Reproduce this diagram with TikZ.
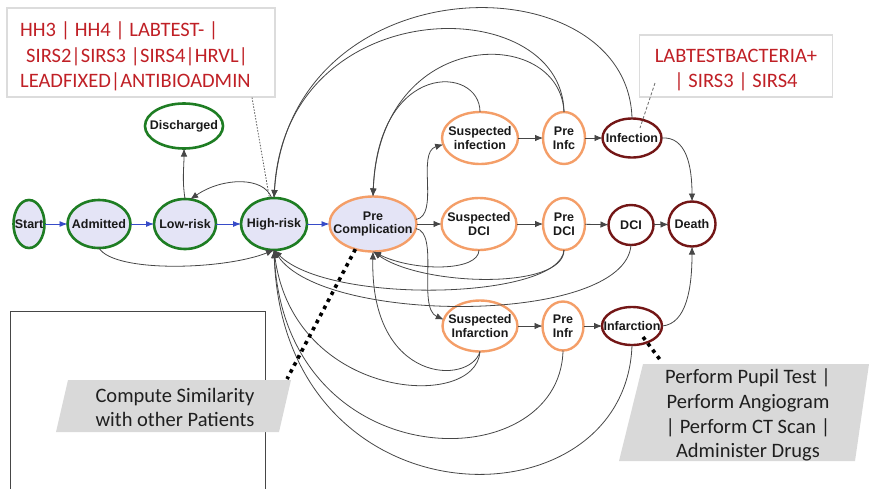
\documentclass[tikz,border=0pt]{standalone}
\usepackage{fontspec}
\setmainfont{Liberation Sans}
\newfontfamily\calib{Carlito}
\usetikzlibrary{shapes.geometric,arrows.meta,calc}

\definecolor{stgreen}{RGB}{30,125,35}
\definecolor{stfill}{RGB}{228,228,246}
\definecolor{storange}{RGB}{244,158,104}
\definecolor{stdark}{RGB}{115,22,22}
\definecolor{flowblue}{RGB}{55,75,200}
\definecolor{edgegray}{RGB}{70,70,70}
\definecolor{notered}{RGB}{192,32,38}
\definecolor{calloutfill}{RGB}{217,217,217}
\definecolor{boxline}{RGB}{220,220,220}
\definecolor{frameline}{RGB}{70,70,70}

\begin{document}
\begin{tikzpicture}[x=1pt,y=-1pt,
  state/.style={ellipse, inner sep=-30pt, outer sep=0pt,
    font=\fontsize{12.5}{13.8}\selectfont\bfseries, text=black!90, align=center},
  early/.style={state, draw=stgreen, line width=2.6pt, fill=stfill},
  earlyw/.style={early, fill=white},
  watch/.style={state, draw=storange, line width=2.4pt, fill=white},
  watchf/.style={watch, fill=stfill},
  outcome/.style={state, draw=stdark, line width=2.4pt, fill=white},
  flow/.style={draw=flowblue, line width=0.9pt, -{Latex[length=8pt,width=6pt]}},
  edge/.style={draw=edgegray, line width=0.8pt, -{Latex[length=8pt,width=6.5pt]}},
  notebox/.style={draw=boxline, line width=1.4pt, fill=white},
  tagtext/.style={font=\calib\fontsize{20.5}{24}\selectfont, text=notered, inner sep=0pt},
  calltext/.style={font=\calib\fontsize{20.5}{24}\selectfont, text=black!88, inner sep=0pt, anchor=base},
  notedot/.style={draw=black!65, line width=0.8pt, dash pattern=on 1.5pt off 1.5pt},
  notedash/.style={draw=black!55, line width=0.9pt, dash pattern=on 3pt off 2pt},
  bigdots/.style={draw=black, line width=3.6pt, dash pattern=on 3.6pt off 4.4pt}
]
\useasboundingbox (0,0) rectangle (869,488);

% empty frame at the lower left
\draw[frameline, line width=1.6pt] (10.5,311.5) rectangle (265.5,500);

% states
\node[early]  (start) at (29,224)  [minimum width=31, minimum height=48] {Start};
\node[early]  (adm)   at (99,224)  [minimum width=63, minimum height=48] {Admitted};
\node[early]  (low)   at (185,224) [minimum width=62, minimum height=50] {Low-risk};
\node[early]  (high)  at (274,224) [minimum width=66, minimum height=52] {High-risk};
\node[earlyw] (dis)   at (184,126) [minimum width=78, minimum height=45] {Discharged};
\node[watchf] (pc)    at (373,224) [minimum width=87, minimum height=55] {Pre\\Complication};
\node[watch]  (si)    at (480,138) [minimum width=76, minimum height=52] {Suspected\\infection};
\node[watch]  (pi)    at (564,138) [minimum width=42, minimum height=52] {Pre\\Infc};
\node[outcome](inf)   at (632,138) [minimum width=59, minimum height=39] {Infection};
\node[watch]  (sd)    at (479,224) [minimum width=75, minimum height=52] {Suspected\\DCI};
\node[watch]  (pd)    at (564,224) [minimum width=42, minimum height=52] {Pre\\DCI};
\node[outcome](dci)   at (631,225) [minimum width=45, minimum height=40] {DCI};
\node[outcome](death) at (692,224) [minimum width=47, minimum height=45] {Death};
\node[watch]  (sinf)  at (480,326) [minimum width=75, minimum height=51] {Suspected\\Infarction};
\node[watch]  (pinf)  at (563,326) [minimum width=41, minimum height=49] {Pre\\Infr};
\node[outcome](infr)  at (632,326) [minimum width=60, minimum height=38] {Infarction};

% main flow
\draw[flow] (start) -- (adm);
\draw[flow] (adm) -- (low);
\draw[flow] (low) -- (high);
\draw[flow] (high) -- (pc);

% forward transitions
\draw[edge] (low.north) .. controls +(-3,-20) and +(0,20) .. (dis.south);
\draw[edge] (high.95) .. controls +(-8,-22) and +(32,-22) .. (low.78);
\draw[edge] (adm.south) .. controls +(15,25) and +(-50,20) .. (high.south);
\draw[edge] (pc.east) -- (sd);
\draw[edge] (pc.6) .. controls +(24,-4) and +(-27,8) .. (si.190);
\draw[edge] (pc.-6) .. controls +(24,4) and +(-27,-12) .. (sinf.170);
\draw[edge] (si) -- (pi);
\draw[edge] (pi) -- (inf);
\draw[edge] (sd) -- (pd);
\draw[edge] (pd) -- (dci);
\draw[edge] (dci) -- (death);
\draw[edge] (sinf) -- (pinf);
\draw[edge] (pinf) -- (infr);
\draw[edge] (inf.east) .. controls +(25,-2) and +(0,-35) .. (death.north);
\draw[edge] (infr.east) .. controls +(25,-2) and +(0,40) .. (death.south);

% transitions back over the top
\draw[edge] (inf.north) .. controls +(-4,-158) and +(16,-238) .. (high.north);
\draw[edge] (pi.north) .. controls +(-2,-122) and +(11,-208) .. (high.north);
\draw[edge] (pi.north) .. controls +(-4,-87) and +(7,-171) .. (pc.north);
\draw[edge] (si.north) .. controls +(0,-47) and +(5,-136) .. (pc.north);

% transitions back underneath
\draw[edge] (sd.south) .. controls +(0,22) and +(40,20) .. (pc.south);
\draw[edge] (pd.south) .. controls +(0,40) and +(50,35) .. (pc.south);
\draw[edge] (sinf.south) .. controls +(-10,34) and +(-3,133) .. (pc.south);
\draw[edge] (pd.south) .. controls +(-4,50) and +(55,55) .. (high.south);
\draw[edge] (dci.south) .. controls +(-6,80) and +(50,75) .. (high.south);
\draw[edge] (sinf.south) .. controls +(-4,60) and +(20,150) .. (high.south);
\draw[edge] (pinf.south) .. controls +(-3,130) and +(12,230) .. (high.south);
\draw[edge] (infr.south) .. controls +(-6,185) and +(10,280) .. (high.south);

% observation notes
\node[notebox, minimum width=268, minimum height=89, inner sep=0pt] (tags) at (141,52.5) {};
\node[tagtext, anchor=base west] (tag1) at (20,36) {HH3 | HH4 | LABTEST- |};
\node[tagtext, anchor=base west] (tag2) at (26,62) {SIRS2|SIRS3 |SIRS4|HRVL|};
\node[tagtext, anchor=base west] (tag3) at (20,87) {LEADFIXED|ANTIBIOADMIN};
\coordinate (tagtail) at (252,97.5);
\draw[notedot] (tagtail) -- (high.100);

\node[notebox, minimum width=193, minimum height=62, inner sep=0pt] (lab) at (736,66) {};
\node[tagtext, anchor=base] (lab1) at (736,62) {LABTESTBACTERIA+};
\node[tagtext, anchor=base] (lab2) at (736,87) {| SIRS3 | SIRS4};
\coordinate (labtail) at (655,83);
\draw[notedash] (labtail) -- ($(inf.center)+(8,-10)$);

% action callouts
\fill[calloutfill] (68,380) -- (291,380) -- (279,432) -- (56,432) -- cycle;
\node[calltext] (sim1) at (175,402) {Compute Similarity};
\node[calltext] (sim2) at (175,426) {with other Patients};
\coordinate (simtip) at (287,379);
\draw[bigdots] (pc.235) -- (simtip);

\fill[calloutfill] (643,364) -- (869,364) -- (855,461) -- (619,461) -- cycle;
\node[calltext] (act1) at (748,383) {Perform Pupil Test |};
\node[calltext] (act2) at (748,408) {Perform Angiogram};
\node[calltext] (act3) at (748,433) {| Perform CT Scan |};
\node[calltext] (act4) at (748,457) {Administer Drugs};
\coordinate (acttip) at (661,361);
\draw[bigdots] ($(infr.center)+(11,11)$) -- (acttip);
\end{tikzpicture}
\end{document}
